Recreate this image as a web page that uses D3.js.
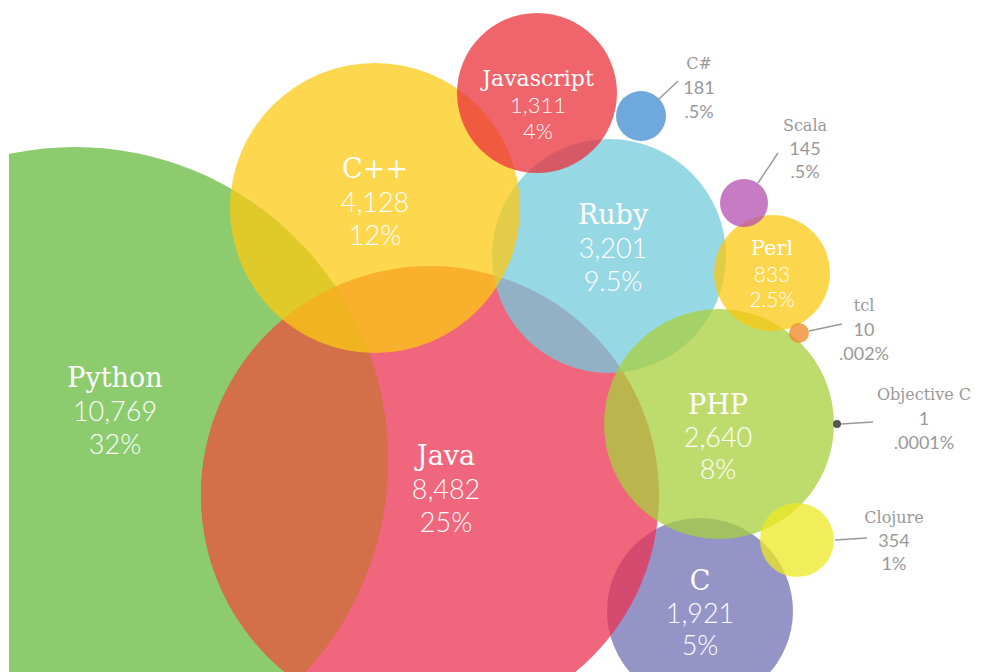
<!DOCTYPE html>
<html>
<head>
<meta charset="utf-8">
<script src="https://cdn.jsdelivr.net/npm/d3@7/dist/d3.min.js"></script>
<style>
  body { margin: 0; background: #fff; }
  svg { display: block; }
</style>
</head>
<body>
<div id="chart"></div>
<script>
//************* data ***************/
var languages  = ["Python", "Java", "C++", "Ruby", "PHP", "C", "Javascript", "Perl", "Clojure", "C#", "Scala", "tcl", "Objective C"];
var lineCounts = [10769, 8482, 4128, 3201, 2640, 1921, 1311, 833, 354, 181, 145, 10, 1];
var shares     = ["32%", "25%", "12%", "9.5%", "8%", "5%", "4%", "2.5%", "1%", ".5%", ".5%", ".002%", ".0001%"];

//************* hand placed layout (frame units = px of 981x672) ***************/
// cx, cy, r of each bubble; lx, ly = first label line; gap = line spacing; fs = font size
var layout = {
  "Python":      {cx: 75,  cy: 460, r: 313, lx: 115, ly: 377, gap: 33, fs: 27, inside: true},
  "Java":        {cx: 430, cy: 495, r: 229, lx: 446, ly: 455, gap: 33, fs: 27, inside: true},
  "C++":         {cx: 375, cy: 208, r: 145, lx: 375, ly: 168, gap: 33, fs: 27, inside: true},
  "Ruby":        {cx: 609, cy: 256, r: 117, lx: 613, ly: 214, gap: 33, fs: 27, inside: true},
  "PHP":         {cx: 719, cy: 424, r: 115, lx: 718, ly: 404, gap: 32, fs: 27, inside: true},
  "C":           {cx: 700, cy: 611, r: 93,  lx: 700, ly: 580, gap: 32, fs: 27, inside: true},
  "Javascript":  {cx: 537, cy: 93,  r: 80,  lx: 538, ly: 78,  gap: 26, fs: 22, inside: true},
  "Perl":        {cx: 772, cy: 273, r: 58,  lx: 772, ly: 248, gap: 25, fs: 21, inside: true},
  "Clojure":     {cx: 797, cy: 540, r: 37,  lx: 894, ly: 517, gap: 23, fs: 18, inside: false, lead: [835, 540, 867, 538]},
  "C#":          {cx: 641, cy: 116, r: 25,  lx: 699, ly: 63,  gap: 24, fs: 18, inside: false, lead: [658, 100, 678, 81]},
  "Scala":       {cx: 744, cy: 203, r: 24,  lx: 805, ly: 125, gap: 23, fs: 18, inside: false, lead: [758, 183, 778, 153]},
  "tcl":         {cx: 799, cy: 333, r: 10,  lx: 864, ly: 305, gap: 24, fs: 18, inside: false, lead: [809, 331, 842, 324]},
  "Objective C": {cx: 837, cy: 424, r: 4,   lx: 924, ly: 394, gap: 24, fs: 18, inside: false, lead: [841, 424, 873, 422]}
};

// pigments drawn at 0.75 opacity so overlaps mix
var colors = {
  "Python": "#65ba3e", "Java": "#eb3352", "C++": "#fcca13", "Ruby": "#74cbdc",
  "PHP": "#a8d03e", "C": "#7270b4", "Javascript": "#eb303a", "Perl": "#fbc810",
  "Clojure": "#eee823", "C#": "#3f8bd0", "Scala": "#b44fb2", "tcl": "#ef8624",
  "Objective C": "#444444"
};

// stacking order, bottom first
var drawOrder = ["Python", "C", "Java", "Ruby", "C++", "Javascript", "C#", "PHP", "Perl", "Scala", "tcl", "Clojure", "Objective C"];

// the Python / Java lens is a warmer brown in the original than a plain alpha mix gives
var lens = {a: "Python", b: "Java", fill: "#d3704a", after: "Java"};

//************* set dimensions ***************/
var width = 981, height = 672;

var x = d3.scaleLinear().domain([0, 981]).range([0, width]);
var y = d3.scaleLinear().domain([0, 672]).range([0, height]);
var fmt = d3.format(",");

var data = languages.map(function(d, i) {
  return Object.assign({name: d, count: lineCounts[i], share: shares[i]}, layout[d]);
});
var byName = {};
data.forEach(function(d) { byName[d.name] = d; });
var ordered = drawOrder.map(function(n) { return byName[n]; });

//************* setup svg ***************/
var svg = d3.select("#chart")
  .append("svg")
    .attr("width", width)
    .attr("height", height);

var defs = svg.append("defs");
defs.append("clipPath").attr("id", "frame")
  .append("rect")
    .attr("x", x(9)).attr("y", 0)
    .attr("width", width - x(9)).attr("height", height);

defs.append("clipPath").attr("id", "lensClip")
  .append("circle")
    .attr("cx", x(byName[lens.a].cx))
    .attr("cy", y(byName[lens.a].cy))
    .attr("r", x(byName[lens.a].r) - x(0));

var plot = svg.append("g").attr("clip-path", "url(#frame)");
var bubbles = plot.append("g");

// bubbles
ordered.forEach(function(d) {
  bubbles.append("circle")
      .attr("cx", x(d.cx))
      .attr("cy", y(d.cy))
      .attr("r", x(d.r) - x(0))
      .attr("fill", colors[d.name])
      .attr("fill-opacity", d.name == "Objective C" ? 0.9 : 0.75);

  if (d.name == lens.after) {
    var b = byName[lens.b];
    bubbles.append("circle")
        .attr("clip-path", "url(#lensClip)")
        .attr("cx", x(b.cx))
        .attr("cy", y(b.cy))
        .attr("r", x(b.r) - x(0))
        .attr("fill", lens.fill);
  }
});

// leader lines for the small ones
var outside = data.filter(function(d) { return !d.inside; });
plot.append("g")
  .selectAll("line")
  .data(outside)
  .enter()
  .append("line")
    .attr("x1", function(d) { return x(d.lead[0]); })
    .attr("y1", function(d) { return y(d.lead[1]); })
    .attr("x2", function(d) { return x(d.lead[2]); })
    .attr("y2", function(d) { return y(d.lead[3]); })
    .attr("stroke", "#999999")
    .attr("stroke-width", 1.5);

// labels: name / count / share
var labels = plot.append("g")
  .selectAll("g")
  .data(data)
  .enter()
  .append("g")
    .attr("transform", function(d) { return "translate(" + x(d.lx) + "," + y(d.ly) + ")"; })
    .attr("fill", function(d) { return d.inside ? "#ffffff" : "#999999"; })
    .attr("text-anchor", "middle");

labels.append("text")
    .attr("dominant-baseline", "central")
    .style("font-family", "'DejaVu Serif', serif")
    .style("font-size", function(d) { return (d.inside ? d.fs : d.fs - 2) + "px"; })
    .text(function(d) { return d.name; });

labels.append("text")
    .attr("y", function(d) { return d.gap; })
    .attr("dominant-baseline", "central")
    .style("font-family", "Lato, 'Open Sans', sans-serif")
    .style("font-weight", function(d) { return d.inside ? 300 : 400; })
    .style("font-size", function(d) { return d.fs + "px"; })
    .text(function(d) { return fmt(d.count); });

labels.append("text")
    .attr("y", function(d) { return 2 * d.gap; })
    .attr("dominant-baseline", "central")
    .style("font-family", "Lato, 'Open Sans', sans-serif")
    .style("font-weight", function(d) { return d.inside ? 300 : 400; })
    .style("font-size", function(d) { return d.fs + "px"; })
    .text(function(d) { return d.share; });
</script>
</body>
</html>
